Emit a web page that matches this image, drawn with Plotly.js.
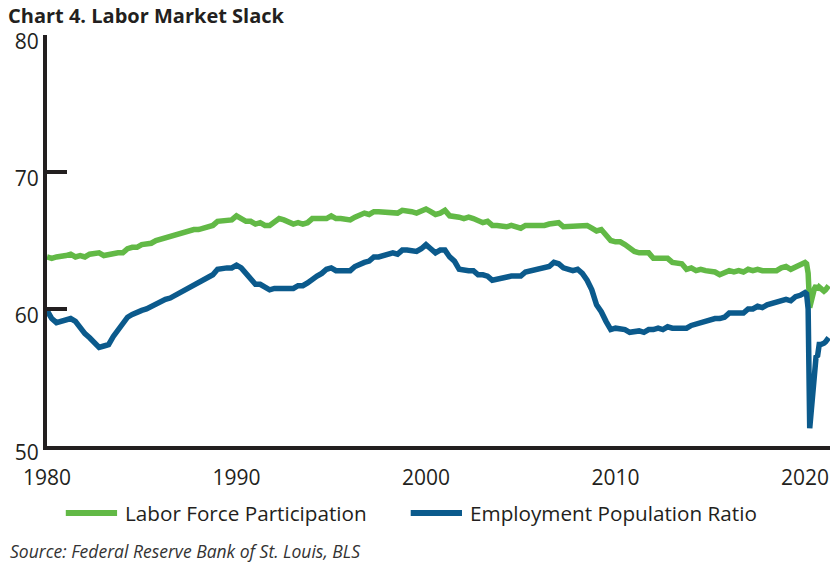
<!DOCTYPE html>
<html>
<head>
<meta charset="utf-8">
<script src="https://cdn.plot.ly/plotly-3.0.1.min.js"></script>
<style>html,body{margin:0;padding:0;background:#fff;}#chart{width:840px;height:571px;}</style>
</head>
<body>
<div id="chart"></div>
<script>
// Quarterly values 1980Q1 .. 2019Q4
const startYear = 1980;
const lfprQuarterly = [
  63.8, 63.7, 63.8, 63.8,  63.9, 64.0, 63.8, 63.9,  63.8, 64.0, 64.0, 64.1,  63.9, 64.0, 64.1, 64.1,
  64.1, 64.4, 64.5, 64.5,  64.7, 64.7, 64.8, 65.0,  65.1, 65.3, 65.4, 65.4,  65.5, 65.6, 65.7, 65.8,
  65.8, 65.9, 66.0, 66.1,  66.4, 66.4, 66.5, 66.5,  66.8, 66.6, 66.4, 66.4,  66.2, 66.3, 66.1, 66.1,
  66.3, 66.6, 66.5, 66.4,  66.2, 66.3, 66.2, 66.3,  66.6, 66.6, 66.6, 66.6,  66.8, 66.6, 66.6, 66.5,
  66.5, 66.7, 66.8, 67.0,  66.9, 67.1, 67.1, 67.1,  67.1, 67.0, 67.0, 67.2,  67.2, 67.1, 67.0, 67.1,
  67.3, 67.1, 66.9, 67.0,  67.2, 66.8, 66.8, 66.7,  66.6, 66.7, 66.6, 66.4,  66.3, 66.4, 66.1, 66.1,
  66.0, 66.0, 66.1, 66.0,  65.9, 66.1, 66.1, 66.0,  66.1, 66.1, 66.2, 66.3,  66.3, 66.0, 66.0, 66.0,
  66.1, 66.1, 66.1, 65.9,  65.7, 65.8, 65.4, 65.0,  64.9, 64.9, 64.7, 64.4,  64.2, 64.1, 64.1, 64.1,
  63.7, 63.7, 63.6, 63.7,  63.4, 63.4, 63.3, 62.9,  63.0, 62.8, 62.9, 62.8,  62.8, 62.7, 62.5, 62.6,
  62.8, 62.7, 62.8, 62.7,  62.9, 62.8, 62.9, 62.8,  62.8, 62.8, 62.8, 63.0,  63.1, 62.9, 63.1, 63.2
];
const epopQuarterly = [
  59.9, 59.3, 59.0, 59.1,  59.3, 59.3, 59.1, 58.6,  58.2, 57.9, 57.6, 57.2,  57.3, 57.4, 58.0, 58.5,
  58.9, 59.4, 59.6, 59.8,  59.9, 60.0, 60.2, 60.4,  60.6, 60.7, 60.8, 61.0,  61.1, 61.4, 61.6, 61.8,
  61.9, 62.2, 62.3, 62.5,  62.9, 63.0, 63.0, 63.0,  63.2, 63.0, 62.6, 62.3,  61.8, 61.8, 61.6, 61.4,
  61.5, 61.5, 61.5, 61.5,  61.5, 61.7, 61.7, 61.9,  62.2, 62.4, 62.6, 62.9,  63.0, 62.8, 62.8, 62.8,
  62.8, 63.1, 63.3, 63.4,  63.5, 63.8, 63.8, 63.9,  64.1, 64.1, 64.0, 64.3,  64.3, 64.3, 64.2, 64.4,
  64.7, 64.4, 64.1, 64.3,  64.3, 63.8, 63.5, 62.9,  62.8, 62.8, 62.8, 62.5,  62.5, 62.4, 62.1, 62.2,
  62.3, 62.4, 62.4, 62.4,  62.4, 62.7, 62.8, 62.8,  63.0, 63.1, 63.1, 63.4,  63.3, 63.0, 62.9, 62.8,
  62.9, 62.6, 62.1, 61.4,  60.3, 59.8, 59.1, 58.5,  58.6, 58.6, 58.5, 58.3,  58.4, 58.4, 58.3, 58.5,
  58.5, 58.6, 58.5, 58.7,  58.6, 58.6, 58.6, 58.6,  58.8, 58.9, 59.0, 59.2,  59.3, 59.3, 59.3, 59.4,
  59.7, 59.7, 59.8, 59.7,  60.0, 60.0, 60.2, 60.1,  60.3, 60.4, 60.4, 60.6,  60.7, 60.6, 60.9, 61.0
];
// Monthly values Jan 2020 .. Apr 2021
const monthlyStart = 2020;
const lfprMonthly = [63.4, 63.3, 62.6, 60.1, 60.7, 61.4, 61.5, 61.7, 61.4, 61.6, 61.5, 61.5, 61.3, 61.4, 61.5, 61.7];
const epopMonthly = [61.2, 61.1, 60.0, 51.3, 52.8, 54.6, 55.2, 56.5, 56.6, 57.4, 57.4, 57.4, 57.5, 57.6, 57.8, 57.9];

const seriesNames = ['Labor Force Participation', 'Employment Population Ratio'];
const seriesColors = ['#62b946', '#0b5a8c'];
const yTicks = [50, 60, 70, 80];
const xTicks = [1980, 1990, 2000, 2010, 2020];
const chartTitle = 'Chart 4. Labor Market Slack';
const sourceText = 'Source: Federal Reserve Bank of St. Louis, BLS';

function buildX(qLen, mLen) {
  const xs = [];
  for (let i = 0; i < qLen; i++) xs.push(startYear + i / 4);
  for (let j = 0; j < mLen; j++) xs.push(monthlyStart + j / 12);
  return xs;
}
const xAll = buildX(lfprQuarterly.length, lfprMonthly.length);
const lfpr = lfprQuarterly.concat(lfprMonthly);
const epop = epopQuarterly.concat(epopMonthly);

const traces = [
  {x: xAll, y: lfpr, name: seriesNames[0], type: 'scatter', mode: 'lines',
   line: {color: seriesColors[0], width: 5.5}, showlegend: false, hoverinfo: 'skip'},
  {x: xAll, y: epop, name: seriesNames[1], type: 'scatter', mode: 'lines',
   line: {color: seriesColors[1], width: 5.5}, showlegend: false, hoverinfo: 'skip'}
];

const txt = '#231f20';
const baseFont = 'Open Sans, Roboto, sans-serif';

const legY = -0.163;
const layout = {
  width: 840, height: 571,
  margin: {l: 47, r: 10, t: 35, b: 125},
  paper_bgcolor: '#fff', plot_bgcolor: '#fff',
  font: {family: baseFont, color: txt},
  title: {text: '<b>' + chartTitle + '</b>', x: 8/840, xanchor: 'left', xref: 'container',
          y: 1 - 16/571, yanchor: 'middle', yref: 'container',
          font: {family: baseFont, size: 20, color: txt}},
  xaxis: {range: [1980, 2021.32], tickvals: xTicks, ticktext: xTicks.map(String),
          showgrid: false, zeroline: false, showline: true, linecolor: txt, linewidth: 4,
          ticks: '', tickfont: {size: 21, color: txt}, ticklabelstandoff: 10, fixedrange: true},
  yaxis: {range: [50, 80], tickvals: yTicks, ticktext: yTicks.map(String),
          showgrid: false, zeroline: false, showline: true, linecolor: txt, linewidth: 4,
          ticks: 'inside', ticklen: 20, tickwidth: 4, tickcolor: txt,
          tickfont: {size: 21, color: txt}, ticklabelshift: 7, fixedrange: true},
  shapes: [
    {type: 'line', xref: 'paper', yref: 'paper', x0: 0.024, x1: 0.0895, y0: legY, y1: legY,
     line: {color: seriesColors[0], width: 6}},
    {type: 'line', xref: 'paper', yref: 'paper', x0: 0.4645, x1: 0.530, y0: legY, y1: legY,
     line: {color: seriesColors[1], width: 6}}
  ],
  annotations: [
    {xref: 'paper', yref: 'paper', x: 0.097, y: legY, xanchor: 'left', yanchor: 'middle',
     text: seriesNames[0], showarrow: false, font: {size: 20.7, color: txt, family: baseFont}},
    {xref: 'paper', yref: 'paper', x: 0.5377, y: legY, xanchor: 'left', yanchor: 'middle',
     text: seriesNames[1], showarrow: false, font: {size: 20.7, color: txt, family: baseFont}},
    {xref: 'paper', yref: 'paper', x: -0.0498, y: -0.2555, xanchor: 'left', yanchor: 'middle',
     text: '<i>' + sourceText + '</i>', showarrow: false, font: {size: 17.5, color: '#333', family: baseFont}}
  ]
};

Plotly.newPlot('chart', traces, layout, {displayModeBar: false, staticPlot: true});
</script>
</body>
</html>
